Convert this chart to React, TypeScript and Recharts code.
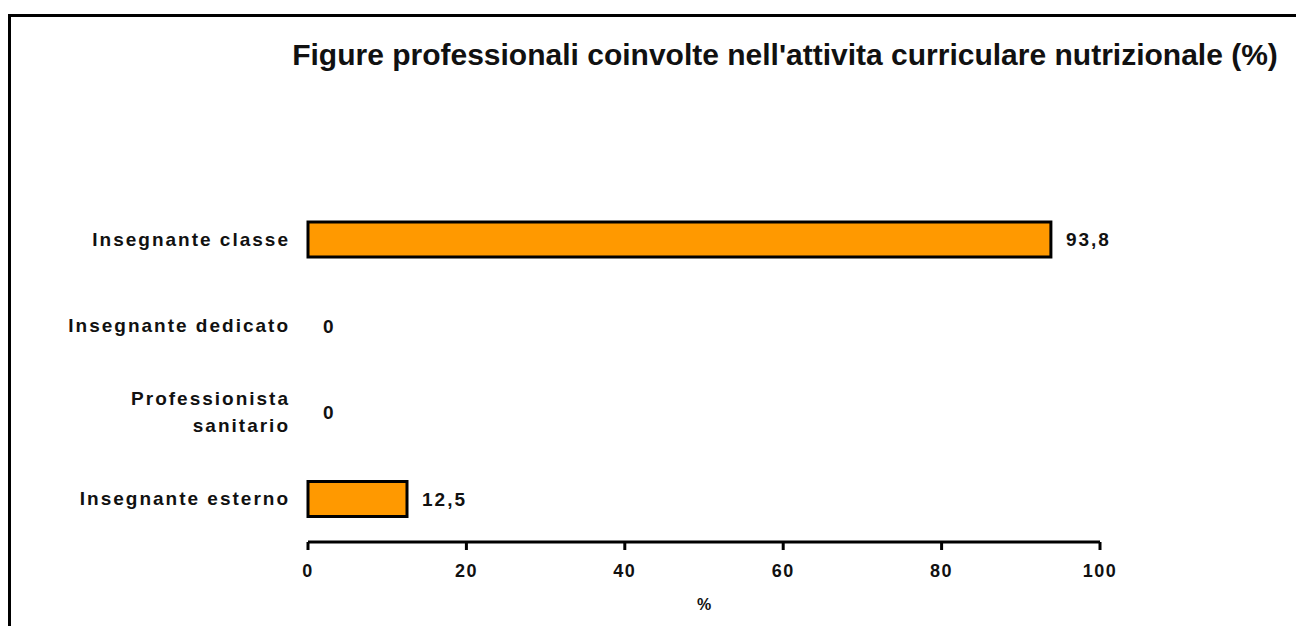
import React from "react";
import { BarChart, Bar, XAxis, YAxis, LabelList, Label, Cell } from "recharts";

const CATEGORIES = [
  "Insegnante classe",
  "Insegnante dedicato",
  "Professionista\nsanitario",
  "Insegnante esterno",
];
const VALUES = [93.8, 0, 0, 12.5];
const X_TICKS = [0, 20, 40, 60, 80, 100];
const TITLE =
  "Figure professionali coinvolte nell'attivita curriculare nutrizionale (%)";

const FONT = "'Liberation Sans', Arial, sans-serif";
const INK = "#111";

const data = CATEGORIES.map((name, i) => ({ name, value: VALUES[i] }));

function CategoryTick(props: any) {
  const { x, y, payload } = props;
  const lines = String(payload.value).split("\n");
  const lineH = 27;
  const start = y - ((lines.length - 1) * lineH) / 2;
  return (
    <text
      x={x - 10}
      y={start}
      textAnchor="end"
      fill={INK}
      fontFamily={FONT}
      fontWeight="bold"
      fontSize={19}
      letterSpacing={2}
    >
      {lines.map((line, i) => (
        <tspan key={i} x={x - 10} y={start + i * lineH} dy="0.35em">
          {line}
        </tspan>
      ))}
    </text>
  );
}

function App() {
  return (
    <div
      style={{
        position: "relative",
        width: 1296,
        height: 618,
        overflow: "hidden",
        background: "#fff",
      }}
    >
      <style>{"body{overflow:hidden}"}</style>
      <div
        style={{
          position: "absolute",
          left: 0,
          top: 6,
          width: 1400,
          height: 700,
          borderLeft: "3px solid #000",
          borderTop: "3px solid #000",
        }}
      />
      <div
        style={{
          position: "absolute",
          left: 277,
          top: 32,
          width: 1000,
          textAlign: "center",
          fontFamily: FONT,
          fontWeight: "bold",
          fontSize: 30,
          lineHeight: "30px",
          color: INK,
          whiteSpace: "nowrap",
        }}
      >
        {TITLE}
      </div>
      <div style={{ position: "absolute", left: 0, top: 0 }}>
        <BarChart
          width={1296}
          height={618}
          data={data}
          layout="vertical"
          margin={{ top: 188, right: 204, left: 0, bottom: 10 }}
          barCategoryGap="30%"
        >
          <XAxis
            type="number"
            domain={[0, 100]}
            ticks={X_TICKS}
            height={74}
            axisLine={{ stroke: "#000", strokeWidth: 3 }}
            tickLine={{ stroke: "#000", strokeWidth: 3 }}
            tickSize={8}
            tickMargin={14}
            tick={{
              fill: INK,
              fontFamily: FONT,
              fontWeight: "bold",
              fontSize: 18,
              letterSpacing: 1.5,
            }}
          >
            <Label
              value="%"
              position="insideBottom"
              offset={6}
              fill={INK}
              fontFamily={FONT}
              fontWeight="bold"
              fontSize={16}
            />
          </XAxis>
          <YAxis
            type="category"
            dataKey="name"
            width={300}
            axisLine={false}
            tickLine={false}
            tick={<CategoryTick />}
          />
          <Bar
            dataKey="value"
            fill="#FF9900"
            stroke="#000"
            strokeWidth={3}
            minPointSize={0.01}
            isAnimationActive={false}
          >
            {VALUES.map((v, i) => (
              <Cell
                key={`cell-${i}`}
                fill={v === 0 ? "none" : "#FF9900"}
                stroke={v === 0 ? "none" : "#000"}
              />
            ))}
            <LabelList
              dataKey="value"
              position="right"
              offset={15}
              formatter={(v: any) => String(v).replace(".", ",")}
              fill={INK}
              fontFamily={FONT}
              fontWeight="bold"
              fontSize={19}
              letterSpacing={2}
            />
          </Bar>
        </BarChart>
      </div>
    </div>
  );
}

export default App;
